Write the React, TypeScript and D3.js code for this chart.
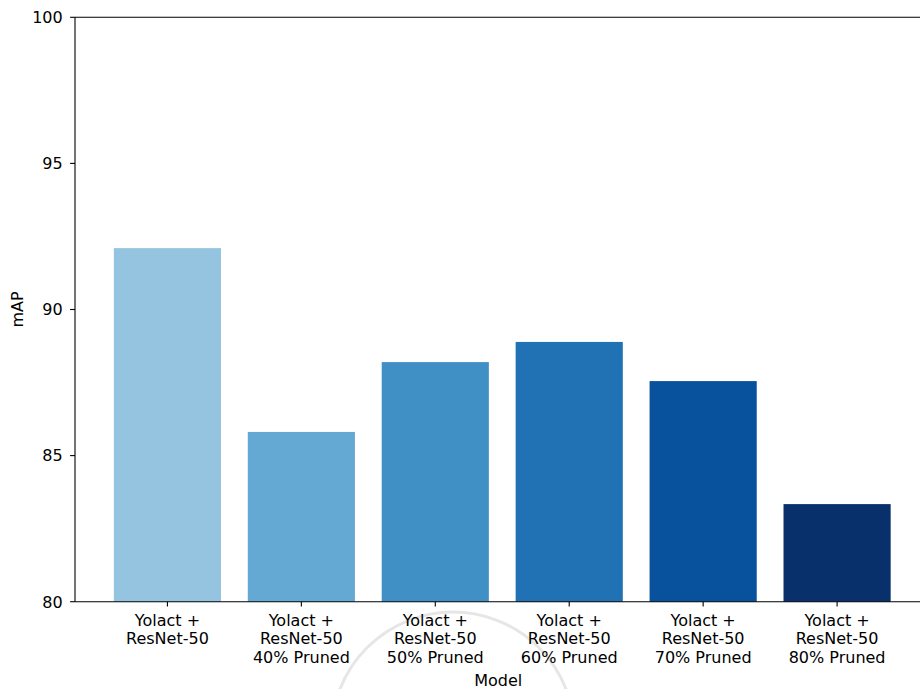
import React from "react";
import * as d3 from "d3";

const categories: string[][] = [
  ["Yolact +", "ResNet-50"],
  ["Yolact +", "ResNet-50", "40% Pruned"],
  ["Yolact +", "ResNet-50", "50% Pruned"],
  ["Yolact +", "ResNet-50", "60% Pruned"],
  ["Yolact +", "ResNet-50", "70% Pruned"],
  ["Yolact +", "ResNet-50", "80% Pruned"],
];
const mAP: number[] = [92.1, 85.81, 88.2, 88.89, 87.55, 83.34];
const barColors: string[] = ["#94c4df", "#64a9d3", "#4090c5", "#2171b5", "#08519c", "#08306b"];
const yTicks: number[] = [80, 85, 90, 95, 100];

const W = 920;
const H = 689;
const left = 75;
const right = 929.5;
const top = 17.3;
const bottom = 601.7;
const FONT = "'DejaVu Sans', sans-serif";

export default function App() {
  const x = d3.scaleLinear().domain([-0.69, 5.69]).range([left, right]);
  const y = d3.scaleLinear().domain([80, 100]).range([bottom, top]);
  const bw = x(0.8) - x(0);
  const lineH = 18.3;

  return (
    <svg
      width={W}
      height={H}
      viewBox={`0 0 ${W} ${H}`}
      style={{ position: "absolute", left: 0, top: 0, background: "#fff" }}
    >
      <rect x={0} y={0} width={W} height={H} fill="#fff" />
      {/* faint watermark arc */}
      <circle cx={453} cy={733.4} r={121.4} fill="none" stroke="#e6e6e6" strokeWidth={3} />
      {mAP.map((v, i) => (
        <rect
          key={i}
          x={x(i) - bw / 2}
          y={y(v)}
          width={bw}
          height={y(80) - y(v)}
          fill={barColors[i]}
        />
      ))}
      {/* spines */}
      <g stroke="#000" strokeWidth={1.1} fill="none">
        <line x1={left} x2={left} y1={top} y2={bottom} />
        <line x1={left} x2={right} y1={top} y2={top} />
        <line x1={left} x2={right} y1={bottom} y2={bottom} />
        <line x1={right} x2={right} y1={top} y2={bottom} />
      </g>
      {/* y ticks */}
      {yTicks.map((t) => (
        <g key={t}>
          <line x1={left - 4.9} x2={left} y1={y(t)} y2={y(t)} stroke="#000" strokeWidth={1.1} />
          <text
            x={left - 12.3}
            y={y(t) + 5.8}
            textAnchor="end"
            fontFamily={FONT}
            fontSize={16}
            fill="#000"
          >
            {t}
          </text>
        </g>
      ))}
      {/* x ticks */}
      {categories.map((lines, i) => (
        <g key={i}>
          <line x1={x(i)} x2={x(i)} y1={bottom} y2={bottom + 4.9} stroke="#000" strokeWidth={1.1} />
          {lines.map((ln, j) => (
            <text
              key={j}
              x={x(i)}
              y={626 + j * lineH}
              textAnchor="middle"
              fontFamily={FONT}
              fontSize={16}
              fill="#000"
            >
              {ln}
            </text>
          ))}
        </g>
      ))}
      <text
        x={(left + right) / 2 - 4}
        y={685.7}
        textAnchor="middle"
        fontFamily={FONT}
        fontSize={16}
        fill="#000"
      >
        Model
      </text>
      <text
        transform={`translate(23.3, ${(top + bottom) / 2}) rotate(-90)`}
        textAnchor="middle"
        fontFamily={FONT}
        fontSize={16}
        fill="#000"
      >
        mAP
      </text>
    </svg>
  );
}
